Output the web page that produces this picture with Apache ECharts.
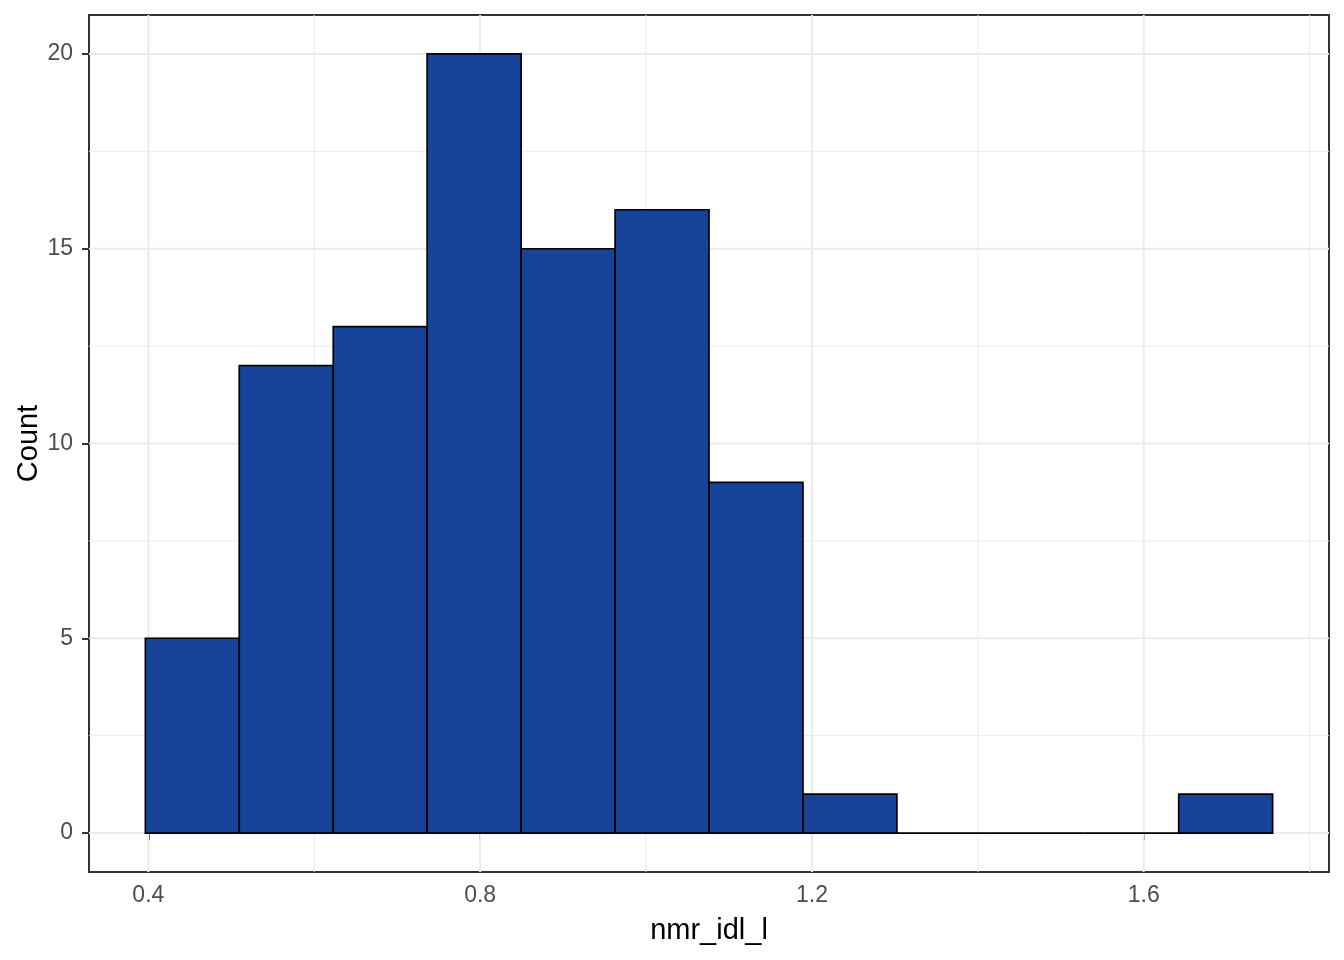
<!DOCTYPE html>
<html>
<head>
<meta charset="utf-8">
<script src="https://cdn.jsdelivr.net/npm/echarts@6/dist/echarts.min.js"></script>
<style>
html,body{margin:0;padding:0;background:#fff;}
#chart{width:1344px;height:960px;}
</style>
</head>
<body>
<div id="chart"></div>
<script>
// Histogram bin edges (nmr_idl_l) and counts
const binEdges = [0.3964, 0.5096, 0.6229, 0.7361, 0.8494, 0.9627, 1.0759, 1.1892, 1.3024, 1.4157, 1.5289, 1.6422, 1.7554];
const counts = [5, 12, 13, 20, 15, 16, 9, 1, 0, 0, 0, 1];
// Axis breaks
const xBreaks = [0.4, 0.8, 1.2, 1.6];
const xMinorBreaks = [0.6, 1.0, 1.4, 1.8];
const yBreaks = [0, 5, 10, 15, 20];
const yMinorBreaks = [2.5, 7.5, 12.5, 17.5];
const xLimits = [0.32844, 1.82337];
const yLimits = [-1, 21];

const FONT = '"Liberation Sans", Arial, sans-serif';

const barData = counts.map((c, i) => [binEdges[i], binEdges[i + 1], c]);
const gridData = []
  .concat(xMinorBreaks.map(v => [v, 0, 0]))
  .concat(yMinorBreaks.map(v => [v, 1, 0]))
  .concat(xBreaks.map(v => [v, 0, 1]))
  .concat(yBreaks.map(v => [v, 1, 1]));

const chart = echarts.init(document.getElementById('chart'), null, {renderer: 'canvas'});
chart.setOption({
  animation: false,
  backgroundColor: '#ffffff',
  grid: {
    left: 89, top: 15, right: 15, bottom: 88,
    show: true, backgroundColor: '#ffffff', borderColor: '#333333', borderWidth: 2
  },
  xAxis: {
    type: 'value', min: xLimits[0], max: xLimits[1],
    name: 'nmr_idl_l', nameLocation: 'middle', nameGap: 44, nameMoveOverlap: false,
    nameTextStyle: {fontFamily: FONT, fontSize: 29, color: '#000000'},
    axisLine: {show: false},
    axisTick: {show: true, customValues: xBreaks, length: 7, lineStyle: {color: '#333333', width: 2}},
    axisLabel: {customValues: xBreaks, fontFamily: FONT, fontSize: 23, color: '#4D4D4D', margin: 12,
      formatter: v => v.toFixed(1)},
    splitLine: {show: false}
  },
  yAxis: {
    type: 'value', min: yLimits[0], max: yLimits[1],
    name: 'Count', nameLocation: 'middle', nameGap: 46, nameMoveOverlap: false,
    nameTextStyle: {fontFamily: FONT, fontSize: 29, color: '#000000'},
    axisLine: {show: false},
    axisTick: {show: true, customValues: yBreaks, length: 7, lineStyle: {color: '#333333', width: 2}},
    axisLabel: {customValues: yBreaks, fontFamily: FONT, fontSize: 23, color: '#4D4D4D', margin: 16},
    splitLine: {show: false}
  },
  series: [
    {
      type: 'custom', z: 1, silent: true, clip: true,
      data: gridData,
      renderItem: function (params, api) {
        const v = api.value(0), dir = api.value(1), major = api.value(2);
        const cs = params.coordSys;
        let shape;
        if (dir === 0) {
          const x = api.coord([v, 0])[0];
          shape = {x1: x, y1: cs.y, x2: x, y2: cs.y + cs.height};
        } else {
          const y = api.coord([xLimits[0], v])[1];
          shape = {x1: cs.x, y1: y, x2: cs.x + cs.width, y2: y};
        }
        return {type: 'line', shape: shape,
          style: {stroke: '#EBEBEB', lineWidth: major ? 2 : 1}};
      }
    },
    {
      type: 'custom', z: 2, silent: true,
      data: barData,
      renderItem: function (params, api) {
        const x0 = api.value(0), x1 = api.value(1), c = api.value(2);
        const p0 = api.coord([x0, c]);
        const p1 = api.coord([x1, 0]);
        if (c === 0) {
          return {type: 'line', shape: {x1: p0[0], y1: p1[1], x2: p1[0], y2: p1[1]},
            style: {stroke: '#000000', lineWidth: 1.7}};
        }
        return {type: 'rect',
          shape: {x: p0[0], y: p0[1], width: p1[0] - p0[0], height: p1[1] - p0[1]},
          style: {fill: '#17439A', stroke: '#000000', lineWidth: 1.7}};
      }
    }
  ]
});
</script>
</body>
</html>
